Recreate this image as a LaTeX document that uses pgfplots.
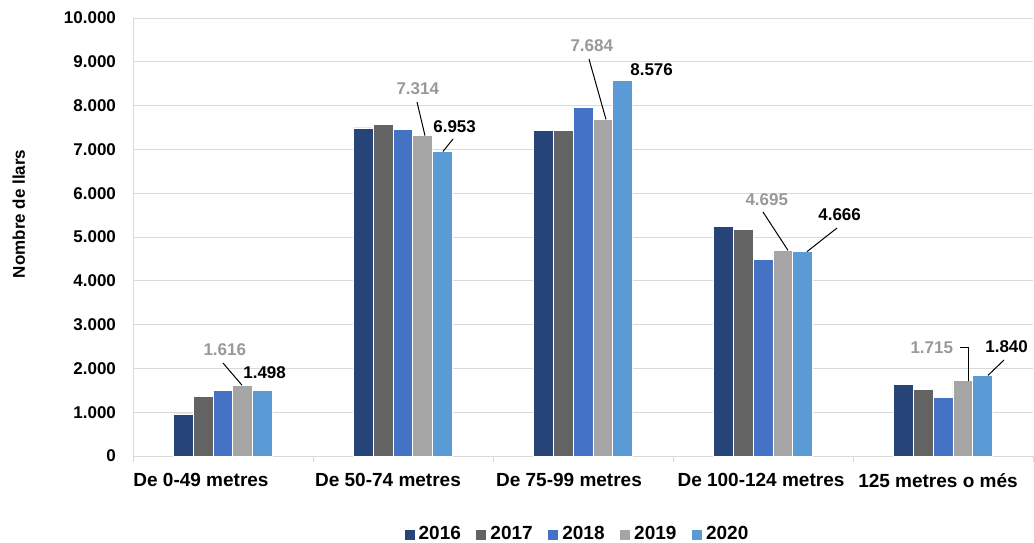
\documentclass[border=0pt]{standalone}
\usepackage{fontspec}
\setmainfont{Liberation Sans}
\usepackage{pgfplots}
\usepackage{pgfplotstable}
\pgfplotsset{compat=1.18}

\definecolor{c2016}{HTML}{264478}
\definecolor{c2017}{HTML}{636363}
\definecolor{c2018}{HTML}{4472C4}
\definecolor{c2019}{HTML}{A5A5A5}
\definecolor{c2020}{HTML}{5B9BD5}
\definecolor{gridgray}{HTML}{D9D9D9}
\definecolor{lab2019}{HTML}{999999}

% categories at 0..4
\pgfplotstableread{
x y
0 959
1 7490
2 7431
3 5245
4 1626
}\tabA
\pgfplotstableread{
x y
0 1354
1 7567
2 7431
3 5170
4 1519
}\tabB
\pgfplotstableread{
x y
0 1497
1 7453
2 7959
3 4483
4 1331
}\tabC
% dx, dy = label offset (pt) from bar top
\pgfplotstableread{
x y dx dy
0 1616 -9 17.6
1 7314 -2.5 23.3
2 7684 -5.5 36.7
3 4695 -8 25.2
4 1715 -15.5 16.5
}\tabD
\pgfplotstableread{
x y dx dy
0 1498 1 8.7
1 6953 6 12.2
2 8576 14.5 5.2
3 4666 18.5 18.3
4 1840 12 14.2
}\tabE

\begin{document}
\begin{tikzpicture}
\begin{axis}[
    at={(0,0)}, anchor=south west,
    scale only axis,
    width=450pt, height=219pt,
    ybar=0pt,
    bar width=9.9pt,
    enlargelimits=false,
    clip=false,
    xmin=-0.5, xmax=4.5,
    ymin=0, ymax=10000,
    ytick={0,1000,...,10000},
    scaled y ticks=false,
    xtick={0,1,2,3,4},
    % labels sit a little left of the category centre, as in the source
    xticklabels={\hspace*{-22pt}De 0-49 metres, \hspace*{-15pt}De 50-74 metres,
        \hspace*{-14pt}De 75-99 metres, \hspace*{-2pt}De 100-124 metres,
        \hspace*{-5pt}125 metres o més},
    minor xtick={-0.5,0.5,1.5,2.5,3.5,4.5},
    major tick length=0pt,
    minor tick length=3pt,
    tick align=outside,
    minor x tick style={draw=gridgray},
    axis x line*=bottom,
    axis y line*=left,
    axis line style={gridgray,-},
    ymajorgrids,
    grid style={gridgray},
    /pgf/number format/.cd, 1000 sep={.}, assume math mode=true,
    /pgfplots/.cd,
    yticklabel style={font=\bfseries\fontsize{8.5}{10}\selectfont, xshift=-5pt},
    xticklabel style={font=\bfseries\fontsize{9.5}{11}\selectfont, yshift=-5pt},
    ylabel={Nombre de llars},
    ylabel style={at={(axis description cs:-0.127,0.553)}, anchor=center, font=\bfseries\fontsize{8.5}{10}\selectfont},
    every axis plot/.append style={draw=white, line width=0.4pt},
    nodes near coords style={font=\bfseries\fontsize{8.5}{10}\selectfont, anchor=center},
    legend style={at={(0.495,-0.18)}, anchor=center, draw=none, legend columns=-1,
        font=\bfseries\fontsize{9.5}{11}\selectfont,
        /tikz/every even column/.append style={column sep=5.8pt}},
    legend image code/.code={\fill[#1,draw=none] (0pt,-2.5pt) rectangle (5pt,2.5pt);},
]
\addplot[fill=c2016] table[x=x,y=y]{\tabA};
\addplot[fill=c2017] table[x=x,y=y]{\tabB};
\addplot[fill=c2018] table[x=x,y=y]{\tabC};
\addplot[fill=c2019, nodes near coords,
    visualization depends on={\thisrow{dx}\as\ldx},
    visualization depends on={\thisrow{dy}\as\ldy},
    every node near coord/.append style={xshift=\ldx pt, yshift=\ldy pt, text=lab2019}]
    table[x=x,y=y]{\tabD};
\addplot[fill=c2020, nodes near coords,
    visualization depends on={\thisrow{dx}\as\ldx},
    visualization depends on={\thisrow{dy}\as\ldy},
    every node near coord/.append style={xshift=\ldx pt, yshift=\ldy pt, text=black}]
    table[x=x,y=y]{\tabE};
\legend{2016,2017,2018,2019,2020}

% leader lines
\draw[black, line width=0.5pt] (axis cs:0,2123) -- (axis cs:0.1056,1616);
\draw[black, line width=0.5pt] (axis cs:1.0778,8082) -- (axis cs:1.1222,7314);
\draw[black, line width=0.5pt] (axis cs:1.2778,7237) -- (axis cs:1.2222,6953);
\draw[black, line width=0.5pt] (axis cs:2.0333,9064) -- (axis cs:2.1278,7684);
\draw[black, line width=0.5pt] (axis cs:3.0,5571) -- (axis cs:3.1389,4695);
\draw[black, line width=0.5pt] (axis cs:3.4111,5205) -- (axis cs:3.2444,4666);
\draw[black, line width=0.5pt] (axis cs:4.0944,2466) -- (axis cs:4.1389,2466) -- (axis cs:4.1389,1715);
\draw[black, line width=0.5pt] (axis cs:4.3389,2192) -- (axis cs:4.25,1840);
\end{axis}
\pgfresetboundingbox
\path (-66.5pt,-43pt) rectangle (450.5pt,228pt);
\end{tikzpicture}
\end{document}
